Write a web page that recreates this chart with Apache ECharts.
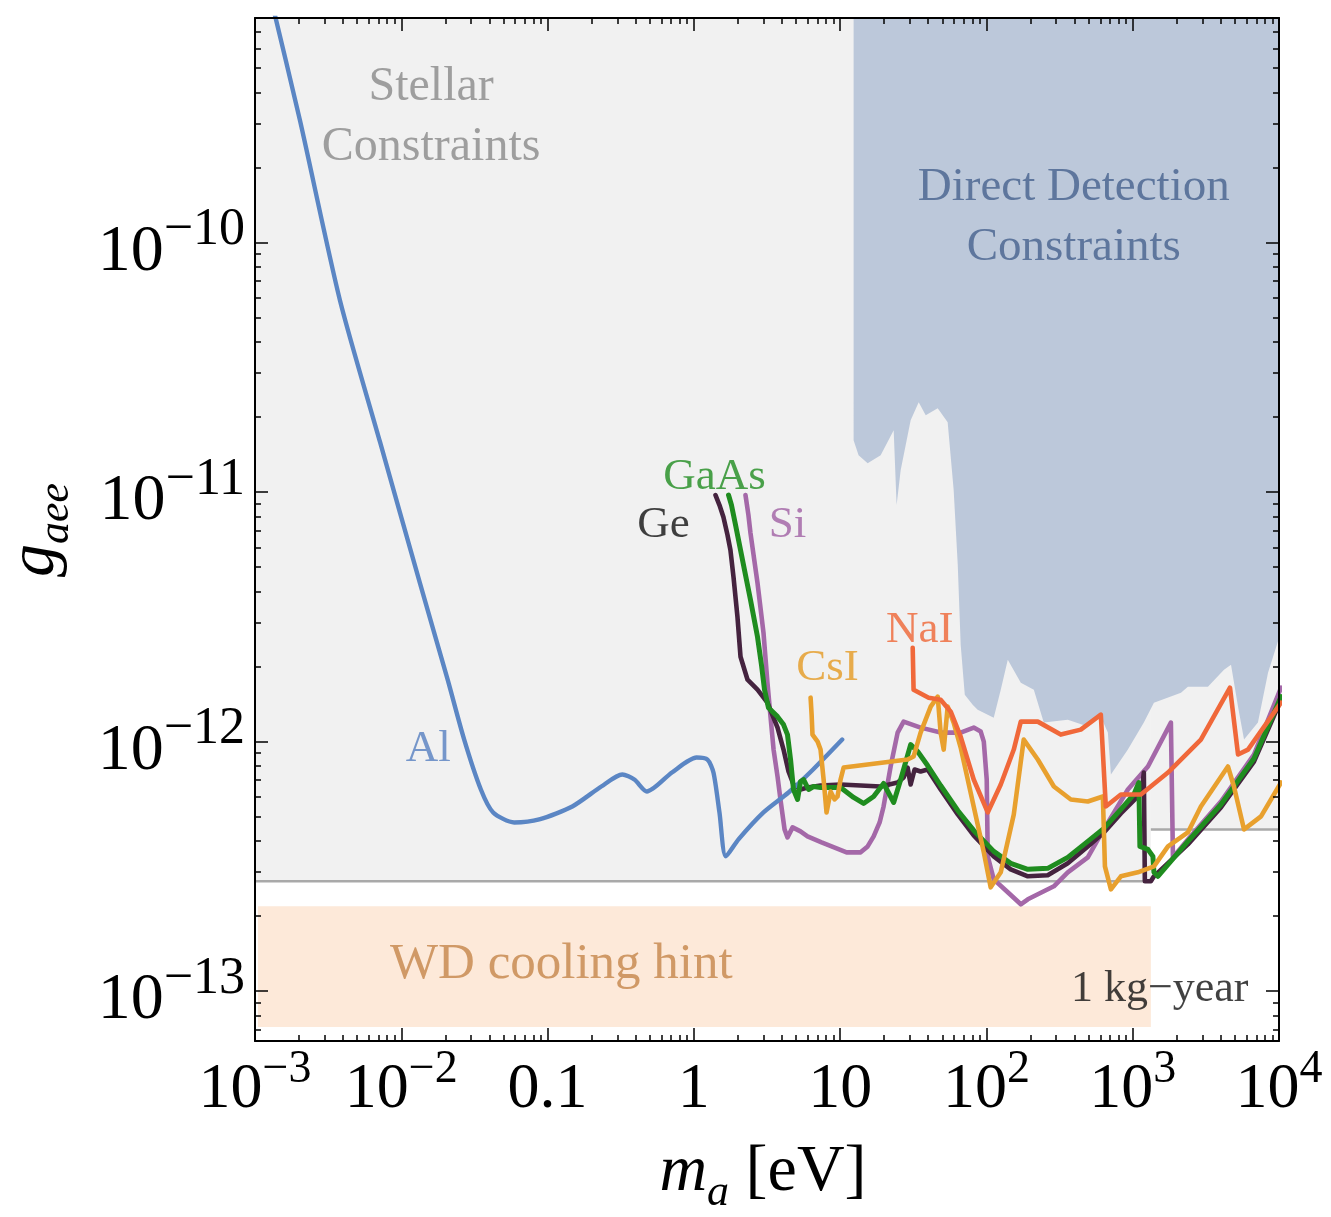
<!DOCTYPE html>
<html>
<head>
<meta charset="utf-8">
<title>Axion dark matter absorption reach</title>
<script src="https://cdn.jsdelivr.net/npm/echarts@6.0.0/dist/echarts.min.js"></script>
<style>
  html, body { margin: 0; padding: 0; background: #ffffff; }
  #chart { width: 1331px; height: 1217px; }
</style>
</head>
<body>
<div id="chart"></div>
<script>
// Every point is [log10(m_a / eV), log10(g_aee)].

// Projected 1 kg-year reach for each target
const al = [[-2.90,-9.00],[-2.692,-9.512],[-2.419,-10.232],[-2.145,-10.80],[-1.871,-11.368],[-1.683,-11.752],
  [-1.570,-11.992],[-1.456,-12.192],[-1.372,-12.284],[-1.228,-12.324],[-1.057,-12.312],[-0.831,-12.26],
  [-0.633,-12.18],[-0.489,-12.132],[-0.407,-12.152],[-0.321,-12.2],[-0.150,-12.124],[0.018,-12.064],
  [0.093,-12.072],[0.134,-12.124],[0.175,-12.284],[0.219,-12.46],[0.305,-12.392],[0.476,-12.284],
  [0.647,-12.204],[0.815,-12.112],[1.014,-11.992]];

const ge = [[0.148,-11.012],[0.175,-11.052],[0.202,-11.100],[0.230,-11.172],[0.250,-11.232],[0.271,-11.340],
  [0.298,-11.500],[0.319,-11.660],[0.367,-11.752],[0.435,-11.792],[0.503,-11.844],[0.572,-11.944],
  [0.613,-12.032],[0.647,-12.120],[0.681,-12.172],[0.729,-12.192],[0.777,-12.184],[0.866,-12.176],
  [1.003,-12.172],[1.140,-12.176],[1.277,-12.180],[1.393,-12.164],[1.434,-12.144],[1.461,-12.104],
  [1.482,-12.172],[1.509,-12.112],[1.550,-12.120],[1.598,-12.112],[1.687,-12.192],[1.804,-12.292],
  [1.913,-12.376],[2.050,-12.460],[2.166,-12.512],[2.283,-12.540],[2.419,-12.536],[2.556,-12.488],
  [2.693,-12.420],[2.803,-12.364],[2.919,-12.288],[3.035,-12.220],[3.063,-12.192],[3.076,-12.124],
  [3.083,-12.560],[3.124,-12.560],[3.145,-12.540],[3.377,-12.412],[3.603,-12.264],[3.829,-12.080],
  [4.014,-11.832]];

const gaas = [[0.237,-11.012],[0.257,-11.052],[0.285,-11.132],[0.319,-11.232],[0.353,-11.332],[0.387,-11.432],
  [0.435,-11.580],[0.462,-11.692],[0.483,-11.792],[0.510,-11.864],[0.572,-11.900],[0.613,-11.932],
  [0.640,-11.972],[0.661,-12.072],[0.681,-12.192],[0.709,-12.232],[0.729,-12.160],[0.750,-12.152],
  [0.784,-12.192],[0.818,-12.180],[0.866,-12.184],[1.003,-12.184],[1.092,-12.224],[1.160,-12.248],
  [1.229,-12.220],[1.297,-12.168],[1.366,-12.244],[1.414,-12.152],[1.482,-12.012],[1.530,-12.040],
  [1.598,-12.096],[1.687,-12.176],[1.804,-12.276],[1.913,-12.356],[2.050,-12.440],[2.166,-12.488],
  [2.283,-12.512],[2.419,-12.508],[2.556,-12.464],[2.693,-12.400],[2.803,-12.348],[2.919,-12.272],
  [3.008,-12.212],[3.042,-12.164],[3.049,-12.420],[3.104,-12.432],[3.138,-12.460],[3.145,-12.524],
  [3.172,-12.540],[3.377,-12.400],[3.603,-12.252],[3.829,-12.068],[4.014,-11.820]];

const si = [[0.353,-11.012],[0.373,-11.092],[0.387,-11.164],[0.435,-11.364],[0.476,-11.564],[0.503,-11.764],
  [0.524,-11.900],[0.545,-12.032],[0.572,-12.140],[0.592,-12.232],[0.620,-12.352],[0.640,-12.384],
  [0.675,-12.344],[0.729,-12.360],[0.777,-12.380],[0.873,-12.404],[1.044,-12.444],[1.140,-12.444],
  [1.188,-12.420],[1.229,-12.380],[1.270,-12.324],[1.297,-12.260],[1.345,-12.100],[1.393,-11.964],
  [1.434,-11.920],[1.550,-11.944],[1.687,-11.964],[1.824,-11.964],[1.913,-11.944],[1.961,-11.960],
  [1.982,-12.000],[2.002,-12.152],[2.009,-12.460],[2.050,-12.552],[2.146,-12.604],[2.235,-12.652],
  [2.283,-12.632],[2.324,-12.620],[2.461,-12.580],[2.556,-12.524],[2.693,-12.464],[2.782,-12.372],
  [2.967,-12.192],[3.104,-12.100],[3.261,-11.924],[3.275,-12.464],[3.377,-12.392],[3.603,-12.240],
  [3.829,-12.052],[4.014,-11.784]];

const csi = [[0.798,-11.824],[0.805,-11.892],[0.811,-11.972],[0.846,-12.000],[0.866,-12.032],[0.887,-12.152],
  [0.907,-12.284],[0.935,-12.200],[0.962,-12.232],[0.982,-12.220],[1.003,-12.152],[1.024,-12.104],
  [1.461,-12.072],[1.502,-12.060],[1.550,-11.964],[1.619,-11.860],[1.667,-11.820],[1.687,-11.964],
  [1.708,-12.032],[1.735,-11.860],[1.776,-11.924],[1.824,-12.024],[1.913,-12.260],[1.982,-12.444],
  [2.029,-12.584],[2.098,-12.524],[2.187,-12.292],[2.255,-11.992],[2.351,-12.072],[2.461,-12.180],
  [2.577,-12.232],[2.693,-12.240],[2.796,-12.220],[2.810,-12.500],[2.851,-12.592],[2.919,-12.540],
  [3.035,-12.524],[3.145,-12.500],[3.241,-12.420],[3.377,-12.364],[3.466,-12.260],[3.651,-12.100],
  [3.692,-12.180],[3.761,-12.352],[3.877,-12.300],[4.014,-12.164]];

const nai = [[1.496,-11.624],[1.502,-11.792],[1.605,-11.824],[1.687,-11.832],[1.756,-11.880],[1.824,-11.980],
  [1.913,-12.152],[2.009,-12.284],[2.098,-12.172],[2.187,-12.032],[2.235,-11.920],[2.351,-11.920],
  [2.508,-11.972],[2.645,-11.952],[2.782,-11.892],[2.816,-12.260],[2.919,-12.212],[3.056,-12.212],
  [3.241,-12.124],[3.466,-11.992],[3.665,-11.784],[3.720,-12.052],[3.788,-12.032],[4.014,-11.844]];

// Excluded regions and the white-dwarf cooling hint
const stellarBoundLow = [[-3, -12.56], [3.124, -12.56]];
const stellarBoundHigh = [[3.124, -12.352], [4, -12.352]];
const directDetection = [[1.092,-9.1],[1.092,-10.792],[1.126,-10.852],[1.188,-10.884],[1.277,-10.852],
  [1.366,-10.752],[1.386,-11.052],[1.414,-10.912],[1.482,-10.712],[1.537,-10.640],[1.585,-10.692],
  [1.667,-10.664],[1.735,-10.720],[1.776,-10.992],[1.804,-11.292],[1.824,-11.612],[1.852,-11.812],
  [1.906,-11.852],[1.940,-11.872],[2.050,-11.904],[2.098,-11.792],[2.146,-11.672],[2.235,-11.764],
  [2.324,-11.792],[2.392,-11.924],[2.556,-11.912],[2.693,-11.940],[2.782,-11.900],[2.830,-11.964],
  [2.851,-12.132],[2.967,-12.032],[3.076,-11.924],[3.145,-11.844],[3.330,-11.804],[3.377,-11.780],
  [3.514,-11.780],[3.624,-11.712],[3.672,-11.692],[3.720,-11.860],[3.761,-11.992],[3.856,-11.924],
  [3.925,-11.724],[4.007,-11.572]];
const wdHintMass = [-2.98, 3.124];
const wdHintCoupling = [-13.144, -12.66];

// Axis ticks and their labels
const xTicks = [-3, -2, -1, 0, 1, 2, 3, 4];
const xTickLabels = [['10', '−3'], ['10', '−2'], ['0.1', ''], ['1', ''], ['10', ''], ['10', '2'], ['10', '3'], ['10', '4']];
const yTicks = [-13, -12, -11, -10];
const yTickLabels = [['10', '−13'], ['10', '−12'], ['10', '−11'], ['10', '−10']];

const SERIF = 'Liberation Serif';
const X_RANGE = [-3, 4];
const Y_RANGE = [-13.2, -9.1];

function minorTicks(lo, hi) {
  const out = [];
  for (let n = Math.floor(lo); n < hi; n++) {
    for (let k = 2; k <= 9; k++) {
      const v = n + Math.log10(k);
      if (v > lo && v < hi) out.push(v);
    }
  }
  return out;
}

function tickFormatter(ticks, labels) {
  return function (v) {
    const i = ticks.findIndex(t => Math.abs(t - v) < 1e-6);
    if (i < 0) return '';
    const [base, sup] = labels[i];
    return sup ? '{b|' + base + '}{s|' + sup + '}' : '{b|' + base + '}';
  };
}

function frameAxis(dim, position, values, len, showLine, label) {
  const range = dim === 'x' ? X_RANGE : Y_RANGE;
  return {
    type: 'value', position: position, min: range[0], max: range[1],
    axisLine: { show: showLine, onZero: false, lineStyle: { color: '#000', width: 2 } },
    axisTick: { show: true, inside: true, length: len, customValues: values,
                lineStyle: { color: '#000', width: 1.5 } },
    axisLabel: label || { show: false },
    splitLine: { show: false },
    z: 30
  };
}

const xMinor = minorTicks(X_RANGE[0], X_RANGE[1]);
const yMinor = minorTicks(Y_RANGE[0], Y_RANGE[1]);

const xLabel = {
  show: true, customValues: xTicks, margin: 6, color: '#000',
  formatter: tickFormatter(xTicks, xTickLabels),
  rich: {
    b: { fontFamily: SERIF, fontSize: 64, lineHeight: 64, padding: [11, 0, 0, 0], verticalAlign: 'top', color: '#000' },
    s: { fontFamily: SERIF, fontSize: 46, lineHeight: 46, verticalAlign: 'top', color: '#000' }
  }
};
const yLabel = {
  show: true, customValues: yTicks, margin: 10, color: '#000', padding: [0, 0, 10, 0],
  formatter: tickFormatter(yTicks, yTickLabels),
  rich: {
    b: { fontFamily: SERIF, fontSize: 66, lineHeight: 66, padding: [15, 0, 0, 0], verticalAlign: 'top', color: '#000' },
    s: { fontFamily: SERIF, fontSize: 52, lineHeight: 52, verticalAlign: 'top', color: '#000' }
  }
};

function curve(name, data, color, width, z, smooth) {
  return {
    name: name, type: 'line', data: data, symbol: 'none', smooth: smooth || false,
    lineStyle: { color: color, width: width, join: 'round', cap: 'round' },
    z: z, silent: true, animation: false
  };
}

function boundary(data) {
  return {
    type: 'line', data: data, symbol: 'none', silent: true, animation: false, z: 2,
    lineStyle: { color: '#a9a9a9', width: 2.5 },
    areaStyle: { color: '#f1f1f1', opacity: 1, origin: 'end' }
  };
}

// Text annotations placed in data coordinates
const notes = [
  { text: 'Stellar\nConstraints', at: [-1.796, -9.5], color: '#8a8a8a', size: 48, lh: 60 },
  { text: 'Direct Detection\nConstraints', at: [2.597, -9.9], color: '#46618d', size: 47, lh: 60 },
  { text: 'WD cooling hint', at: [-0.906, -12.892], color: '#c48548', size: 51 },
  { text: 'Al', at: [-1.816, -12.032], color: '#5680c0', size: 45 },
  { text: 'GaAs', at: [0.141, -10.94], color: '#1f8c1f', size: 45 },
  { text: 'Ge', at: [-0.208, -11.132], color: '#111111', size: 45 },
  { text: 'Si', at: [0.640, -11.132], color: '#a060a4', size: 45 },
  { text: 'CsI', at: [0.914, -11.704], color: '#e59a22', size: 45 },
  { text: 'NaI', at: [1.544, -11.552], color: '#ef6535', size: 45 },
  { text: '1 kg−year', at: [3.795, -12.992], color: '#111111', size: 44, pos: 'left' }
];

const chart = echarts.init(document.getElementById('chart'), null, { renderer: 'canvas' });

const stellarLow = boundary(stellarBoundLow);
stellarLow.markArea = {
  silent: true,
  itemStyle: { color: '#fde9d9', opacity: 1 },
  data: [[{ coord: [wdHintMass[0], wdHintCoupling[1]] }, { coord: [wdHintMass[1], wdHintCoupling[0]] }]]
};

chart.setOption({
  animation: false,
  backgroundColor: '#ffffff',
  grid: { left: 255, right: 52, top: 18, bottom: 176, containLabel: false, outerBoundsMode: 'none' },
  xAxis: [
    frameAxis('x', 'bottom', xTicks, 13, true, xLabel),
    frameAxis('x', 'bottom', xMinor, 6, false),
    frameAxis('x', 'top', xTicks, 13, true),
    frameAxis('x', 'top', xMinor, 6, false)
  ],
  yAxis: [
    frameAxis('y', 'left', yTicks, 13, true, yLabel),
    frameAxis('y', 'left', yMinor, 6, false),
    frameAxis('y', 'right', yTicks, 13, true),
    frameAxis('y', 'right', yMinor, 6, false)
  ],
  series: [
    stellarLow,
    boundary(stellarBoundHigh),
    {
      type: 'line', data: directDetection, symbol: 'none', silent: true, animation: false, z: 3,
      lineStyle: { width: 0, opacity: 0 },
      areaStyle: { color: '#bcc8da', opacity: 1, origin: 'end' }
    },
    curve('Si', si, '#a468a8', 4.6, 5),
    curve('Ge', ge, '#45233f', 4.6, 6),
    curve('Al', al, '#5b86c4', 4.4, 7, 0.25),
    curve('GaAs', gaas, '#1f8c1f', 5, 8),
    curve('CsI', csi, '#e8a02e', 4.6, 9),
    curve('NaI', nai, '#f0683a', 4.6, 10),
    {
      type: 'scatter', symbolSize: 1, silent: true, animation: false, z: 20,
      itemStyle: { color: 'rgba(0,0,0,0)' },
      data: notes.map(n => ({
        value: n.at,
        label: {
          show: true, position: n.pos || 'inside', distance: 0,
          formatter: n.text, color: n.color, fontSize: n.size,
          lineHeight: n.lh || Math.round(n.size * 1.2),
          fontFamily: SERIF, align: n.pos === 'left' ? 'right' : 'center'
        }
      }))
    }
  ],
  graphic: [
    {
      type: 'text', x: 763, y: 1140, silent: true,
      style: {
        text: '{m|m}{a|a}{t| [eV]}',
        align: 'center', verticalAlign: 'top', textAlign: 'center', textVerticalAlign: 'top',
        rich: {
          m: { fontFamily: SERIF, fontStyle: 'italic', fontSize: 66, lineHeight: 66, verticalAlign: 'top', fill: '#000', color: '#000' },
          a: { fontFamily: SERIF, fontStyle: 'italic', fontSize: 44, lineHeight: 44, padding: [31, 0, 0, 0], verticalAlign: 'top', fill: '#000', color: '#000' },
          t: { fontFamily: SERIF, fontSize: 66, lineHeight: 66, verticalAlign: 'top', fill: '#000', color: '#000' }
        }
      }
    },
    {
      type: 'text', x: 3, y: 530, rotation: Math.PI / 2, silent: true,
      style: {
        text: '{g|g}{s|aee}',
        align: 'center', verticalAlign: 'top', textAlign: 'center', textVerticalAlign: 'top',
        rich: {
          g: { fontFamily: SERIF, fontStyle: 'italic', fontSize: 66, lineHeight: 66, verticalAlign: 'top', fill: '#000', color: '#000' },
          s: { fontFamily: SERIF, fontStyle: 'italic', fontSize: 44, lineHeight: 44, padding: [31, 0, 0, 0], verticalAlign: 'top', fill: '#000', color: '#000' }
        }
      }
    }
  ]
});
</script>
</body>
</html>
